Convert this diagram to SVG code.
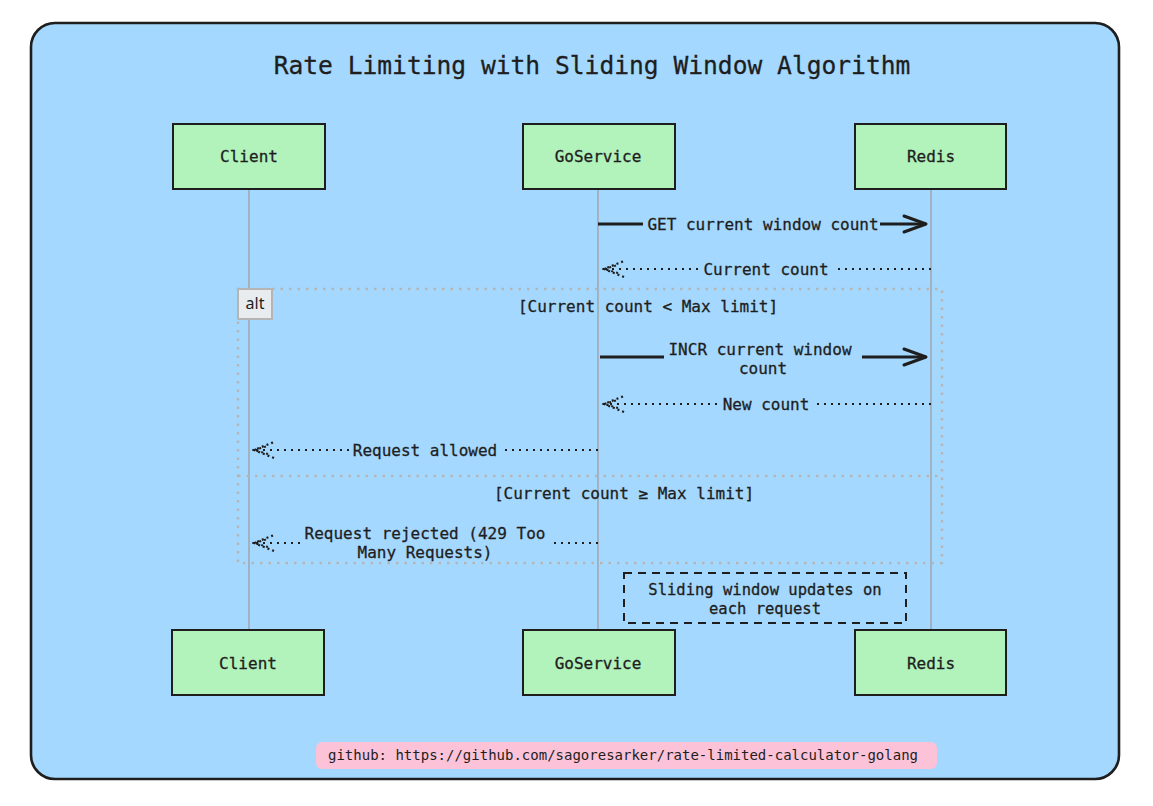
<svg xmlns="http://www.w3.org/2000/svg" width="1153" height="806" viewBox="0 0 1153 806">
  <style>
    .frame { fill: #a5d8ff; stroke: #1e1e1e; stroke-width: 2.6; }
    .actor { fill: #b2f2bb; stroke: #1e1e1e; stroke-width: 2; }
    .lbl { font-family: "DejaVu Sans Mono", "Liberation Mono", monospace; font-size: 16px; fill: #1e1e1e; stroke: #1e1e1e; stroke-width: 0.3; text-anchor: middle; }
    .title { font-family: "DejaVu Sans Mono", "Liberation Mono", monospace; font-size: 24.6px; fill: #1e1e1e; stroke: #1e1e1e; stroke-width: 0.3; text-anchor: middle; }
    .life { stroke: #9a9a9a; stroke-width: 1.2; fill: none; }
    .sync { stroke: #1e1e1e; stroke-width: 3; fill: none; }
    .reply { stroke: #1e1e1e; stroke-width: 2.2; fill: none; stroke-dasharray: 2 5; }
    .altbox { fill: none; stroke: #b5b5b5; stroke-width: 2.4; stroke-dasharray: 2.5 6; }
    .note { fill: none; stroke: #1e1e1e; stroke-width: 2; stroke-dasharray: 8 6; }
  </style>
  <defs>
    <marker id="arrowSolid" markerUnits="userSpaceOnUse" viewBox="0 0 26 20" refX="24" refY="10" markerWidth="26" markerHeight="20" orient="auto">
      <path d="M2,2 L24,10 L2,18" fill="none" stroke="#1e1e1e" stroke-width="3" stroke-linecap="round" stroke-linejoin="round"/>
    </marker>
    <marker id="arrowDotted" markerUnits="userSpaceOnUse" viewBox="0 0 26 20" refX="24" refY="10" markerWidth="26" markerHeight="20" orient="auto">
      <path d="M4,2 L24,10 L4,18" fill="none" stroke="#1e1e1e" stroke-width="2.2" stroke-dasharray="2 3"/>
      <path d="M10,6 L24,10 L10,14" fill="none" stroke="#1e1e1e" stroke-width="2" stroke-dasharray="2 3"/>
    </marker>
  </defs>

  <rect width="1153" height="806" fill="#ffffff"/>
  <g id="background">
    <rect class="frame" x="31" y="23" width="1088" height="756" rx="24" ry="24"/>
    <text class="title" x="592" y="74">Rate Limiting with Sliding Window Algorithm</text>
  </g>

  <g id="lifelines">
    <line class="life" x1="249" y1="189" x2="249" y2="630"/>
    <line class="life" x1="598" y1="189" x2="598" y2="630"/>
    <line class="life" x1="931" y1="189" x2="931" y2="630"/>
  </g>

  <g id="alt-frame">
    <rect class="altbox" x="238" y="289" width="704" height="274"/>
    <line class="altbox" x1="238" y1="476" x2="942" y2="476"/>
    <rect x="238" y="289" width="34" height="30" fill="#e9ecef" stroke="#b5b5b5" stroke-width="2"/>
    <text x="255" y="309" font-family="'Noto Sans', 'DejaVu Sans', sans-serif" font-size="16" fill="#1e1e1e" text-anchor="middle">alt</text>
    <text class="lbl" x="648" y="312">[Current count &lt; Max limit]</text>
    <text class="lbl" x="624" y="499">[Current count ≥ Max limit]</text>
  </g>

  <g id="client-top">
    <rect class="actor" x="173" y="124" width="152" height="65"/>
    <text class="lbl" x="249" y="162">Client</text>
  </g>
  <g id="goservice-top">
    <rect class="actor" x="523" y="124" width="152" height="65"/>
    <text class="lbl" x="598" y="162">GoService</text>
  </g>
  <g id="redis-top">
    <rect class="actor" x="855" y="124" width="151" height="65"/>
    <text class="lbl" x="931" y="162">Redis</text>
  </g>
  <g id="client-bottom">
    <rect class="actor" x="172" y="630" width="152" height="65"/>
    <text class="lbl" x="248" y="669">Client</text>
  </g>
  <g id="goservice-bottom">
    <rect class="actor" x="523" y="630" width="152" height="65"/>
    <text class="lbl" x="598" y="669">GoService</text>
  </g>
  <g id="redis-bottom">
    <rect class="actor" x="855" y="630" width="151" height="65"/>
    <text class="lbl" x="931" y="669">Redis</text>
  </g>

  <g id="connectors">
    <line class="sync" x1="598" y1="224" x2="643" y2="224"/>
    <line class="sync" x1="880" y1="224" x2="926" y2="224" marker-end="url(#arrowSolid)"/>
    <text class="lbl" x="763" y="230">GET current window count</text>

    <line class="reply" x1="931" y1="269" x2="834" y2="269"/>
    <line class="reply" x1="698" y1="269" x2="604" y2="269" marker-end="url(#arrowDotted)"/>
    <text class="lbl" x="766" y="275">Current count</text>

    <line class="sync" x1="600" y1="357" x2="664" y2="357"/>
    <line class="sync" x1="862" y1="357" x2="926" y2="357" marker-end="url(#arrowSolid)"/>
    <text class="lbl" x="760" y="355">INCR current window</text>
    <text class="lbl" x="763" y="374">count</text>

    <line class="reply" x1="931" y1="404" x2="815" y2="404"/>
    <line class="reply" x1="717" y1="404" x2="604" y2="404" marker-end="url(#arrowDotted)"/>
    <text class="lbl" x="766" y="410">New count</text>

    <line class="reply" x1="598" y1="450" x2="501" y2="450"/>
    <line class="reply" x1="349" y1="450" x2="254" y2="450" marker-end="url(#arrowDotted)"/>
    <text class="lbl" x="425" y="456">Request allowed</text>

    <line class="reply" x1="598" y1="543" x2="553" y2="543"/>
    <line class="reply" x1="300" y1="543" x2="254" y2="543" marker-end="url(#arrowDotted)"/>
    <text class="lbl" x="425" y="539">Request rejected (429 Too</text>
    <text class="lbl" x="425" y="558">Many Requests)</text>
  </g>

  <g id="note">
    <rect class="note" x="624" y="573" width="282" height="50"/>
    <text class="lbl" x="765" y="595" style="font-size:15.5px">Sliding window updates on</text>
    <text class="lbl" x="765" y="614" style="font-size:15.5px">each request</text>
  </g>

  <g id="github-label">
    <rect x="316" y="742" width="621" height="27" rx="6" ry="6" fill="#fcc2d7"/>
    <text x="328" y="760" font-family="'DejaVu Sans Mono', 'Liberation Mono', monospace" font-size="14" fill="#1e1e1e">github: https://github.com/sagoresarker/rate-limited-calculator-golang</text>
  </g>
</svg>
